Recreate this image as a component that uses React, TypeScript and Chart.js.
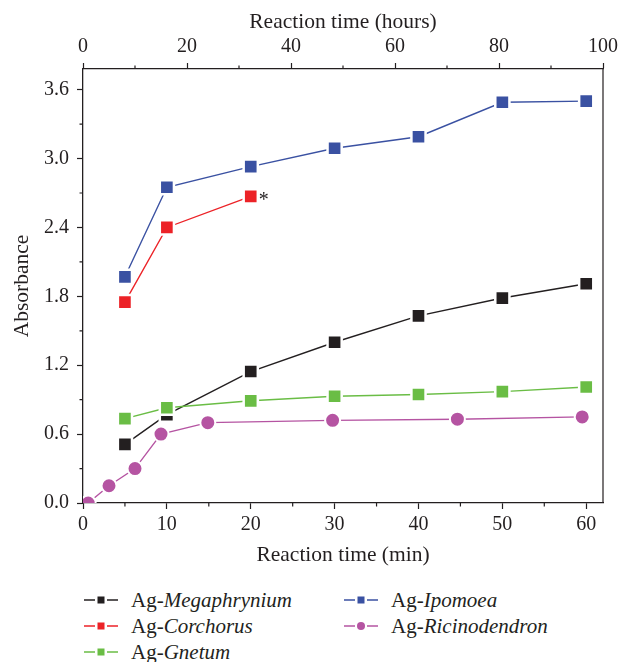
import React, { useEffect, useRef } from "react";
import { Chart, registerables } from "chart.js";

Chart.register(...registerables);

// ---------- data ----------
const minutes = [5, 10, 20, 30, 40, 50, 60];
const megaphrynium = [0.51, 0.77, 1.145, 1.40, 1.63, 1.785, 1.91];
const ipomoea = [1.97, 2.75, 2.93, 3.09, 3.19, 3.49, 3.50];
const gnetum = [0.735, 0.83, 0.89, 0.93, 0.945, 0.97, 1.01];
const corchorusMinutes = [5, 10, 20];
const corchorus = [1.75, 2.40, 2.67];
const ricinoHours = [1, 5, 10, 15, 24, 48, 72, 96];
const ricinodendron = [0.0, 0.15, 0.30, 0.60, 0.70, 0.72, 0.73, 0.75];

const xMinorTicks = [5, 15, 25, 35, 45, 55];
const topMinorTicks = [10, 30, 50, 70, 90];
const yMinorTicks = [0.3, 0.9, 1.5, 2.1, 2.7, 3.3];

const AXIS = "#231f20";
const BLACK = "#231f20";
const RED = "#ec2227";
const BLUE = "#3a51a2";
const GREEN = "#6abd45";
const MAGENTA = "#b554a2";
const FONT = "'Liberation Serif', 'Times New Roman', serif";

const pts = (xs: number[], ys: number[]) => xs.map((x, i) => ({ x, y: ys[i] }));

const frameAndMinor = {
  id: "frameAndMinor",
  afterDraw(chart: any) {
    const ctx = chart.ctx;
    const { left, right, top, bottom } = chart.chartArea;
    const sx = chart.scales.x;
    const sx2 = chart.scales.x2;
    const sy = chart.scales.y;
    const L = 3.5;
    ctx.save();
    ctx.strokeStyle = AXIS;
    ctx.lineWidth = 1.2;
    ctx.beginPath();
    ctx.moveTo(right, top);
    ctx.lineTo(right, bottom);
    for (const v of xMinorTicks) {
      const p = sx.getPixelForValue(v);
      ctx.moveTo(p, bottom);
      ctx.lineTo(p, bottom + L);
    }
    for (const v of topMinorTicks) {
      const p = sx2.getPixelForValue(v);
      ctx.moveTo(p, top);
      ctx.lineTo(p, top - L);
    }
    for (const v of yMinorTicks) {
      const p = sy.getPixelForValue(v);
      ctx.moveTo(left, p);
      ctx.lineTo(left - L, p);
    }
    ctx.stroke();
    const meta = chart.getDatasetMeta(2);
    const last = meta.data[meta.data.length - 1];
    if (last) {
      ctx.fillStyle = AXIS;
      ctx.font = `20px ${FONT}`;
      ctx.textAlign = "left";
      ctx.textBaseline = "middle";
      ctx.fillText("*", last.x + 8, last.y + 4);
    }
    ctx.restore();
  },
};

const tickFont = { family: FONT, size: 20 };
const titleFont = { family: FONT, size: 21.5 };

function LegendItem({ color, circle, genus }: { color: string; circle?: boolean; genus: string }) {
  return (
    <div style={{ display: "flex", alignItems: "center", height: 26 }}>
      <svg width={34} height={14} style={{ display: "block" }}>
        <line x1={0} y1={7} x2={11} y2={7} stroke={color} strokeWidth={1.5} />
        <line x1={23} y1={7} x2={34} y2={7} stroke={color} strokeWidth={1.5} />
        {circle ? (
          <circle cx={17} cy={7} r={4} fill={color} />
        ) : (
          <rect x={13.5} y={3.5} width={7} height={7} fill={color} />
        )}
      </svg>
      <span style={{ marginLeft: 13, fontFamily: FONT, fontSize: 21, color: AXIS, lineHeight: "26px" }}>
        Ag-<i>{genus}</i>
      </span>
    </div>
  );
}

export default function App() {
  const ref = useRef<HTMLCanvasElement>(null);

  useEffect(() => {
    if (!ref.current) return;
    const sq = {
      pointStyle: "rect",
      pointRadius: 10,
      pointHoverRadius: 10,
      pointBorderColor: "#ffffff",
      pointBorderWidth: 2.5,
      borderWidth: 1.4,
    };
    const axisGrid = {
      drawOnChartArea: false,
      drawTicks: true,
      tickLength: 6,
      tickColor: AXIS,
      tickWidth: 1.2,
    };
    const chart = new Chart(ref.current, {
      type: "line",
      data: {
        datasets: [
          {
            label: "Ag-Ipomoea",
            data: pts(minutes, ipomoea),
            borderColor: BLUE,
            pointBackgroundColor: BLUE,
            ...sq,
          },
          {
            label: "Ag-Gnetum",
            data: pts(minutes, gnetum),
            borderColor: GREEN,
            pointBackgroundColor: GREEN,
            ...sq,
          },
          {
            label: "Ag-Corchorus",
            data: pts(corchorusMinutes, corchorus),
            borderColor: RED,
            pointBackgroundColor: RED,
            ...sq,
          },
          {
            label: "Ag-Megaphrynium",
            data: pts(minutes, megaphrynium),
            borderColor: BLACK,
            pointBackgroundColor: BLACK,
            ...sq,
          },
          {
            label: "Ag-Ricinodendron",
            data: pts(ricinoHours, ricinodendron),
            xAxisID: "x2",
            borderColor: MAGENTA,
            pointBackgroundColor: MAGENTA,
            pointStyle: "circle",
            pointRadius: 7.5,
            pointHoverRadius: 7.5,
            pointBorderColor: "#ffffff",
            pointBorderWidth: 2,
            borderWidth: 1.4,
          },
        ] as any,
      },
      options: {
        animation: false,
        responsive: true,
        maintainAspectRatio: false,
        layout: { padding: { right: 15, left: 0, top: 0, bottom: 0 } },
        plugins: { legend: { display: false }, tooltip: { enabled: false } },
        scales: {
          x: {
            type: "linear",
            position: "bottom",
            min: 0,
            max: 62,
            afterFit: (s: any) => {
              s.height = 68;
            },
            ticks: {
              stepSize: 10,
              includeBounds: false,
              font: tickFont,
              color: AXIS,
              padding: 4,
              maxRotation: 0,
            },
            grid: axisGrid,
            border: { display: true, color: AXIS, width: 1.3 },
            title: {
              display: true,
              text: "Reaction time (min)",
              font: titleFont,
              color: AXIS,
              padding: { top: 4, bottom: 3 },
            },
          },
          x2: {
            type: "linear",
            position: "top",
            min: 0,
            max: 100,
            afterFit: (s: any) => {
              s.height = 61;
            },
            ticks: {
              stepSize: 20,
              font: tickFont,
              color: AXIS,
              padding: 4,
              maxRotation: 0,
            },
            grid: axisGrid,
            border: { display: true, color: AXIS, width: 1.3 },
            title: {
              display: true,
              text: "Reaction time (hours)",
              font: titleFont,
              color: AXIS,
              padding: { top: 1, bottom: 4 },
            },
          },
          y: {
            type: "linear",
            position: "left",
            min: 0,
            max: 3.78,
            afterFit: (s: any) => {
              s.width = 75;
            },
            ticks: {
              stepSize: 0.6,
              includeBounds: false,
              font: tickFont,
              color: AXIS,
              padding: 8,
              callback: (v: any) => Number(v).toFixed(1),
            },
            grid: axisGrid,
            border: { display: true, color: AXIS, width: 1.3 },
            title: {
              display: true,
              text: "Absorbance",
              font: titleFont,
              color: AXIS,
              padding: { top: 1, bottom: 4 },
            },
          },
        },
      } as any,
      plugins: [frameAndMinor],
    });
    return () => chart.destroy();
  }, []);

  return (
    <div
      style={{
        position: "absolute",
        left: 8,
        top: 8,
        width: 614,
        height: 654,
        overflow: "hidden",
      }}
    >
      <div style={{ position: "relative", width: 614, height: 563 }}>
        <canvas ref={ref} />
      </div>
      <div style={{ display: "flex", marginTop: 16, paddingLeft: 76 }}>
        <div style={{ width: 260 }}>
          <LegendItem color={BLACK} genus="Megaphrynium" />
          <LegendItem color={RED} genus="Corchorus" />
          <LegendItem color={GREEN} genus="Gnetum" />
        </div>
        <div>
          <LegendItem color={BLUE} genus="Ipomoea" />
          <LegendItem color={MAGENTA} genus="Ricinodendron" circle />
        </div>
      </div>
    </div>
  );
}
